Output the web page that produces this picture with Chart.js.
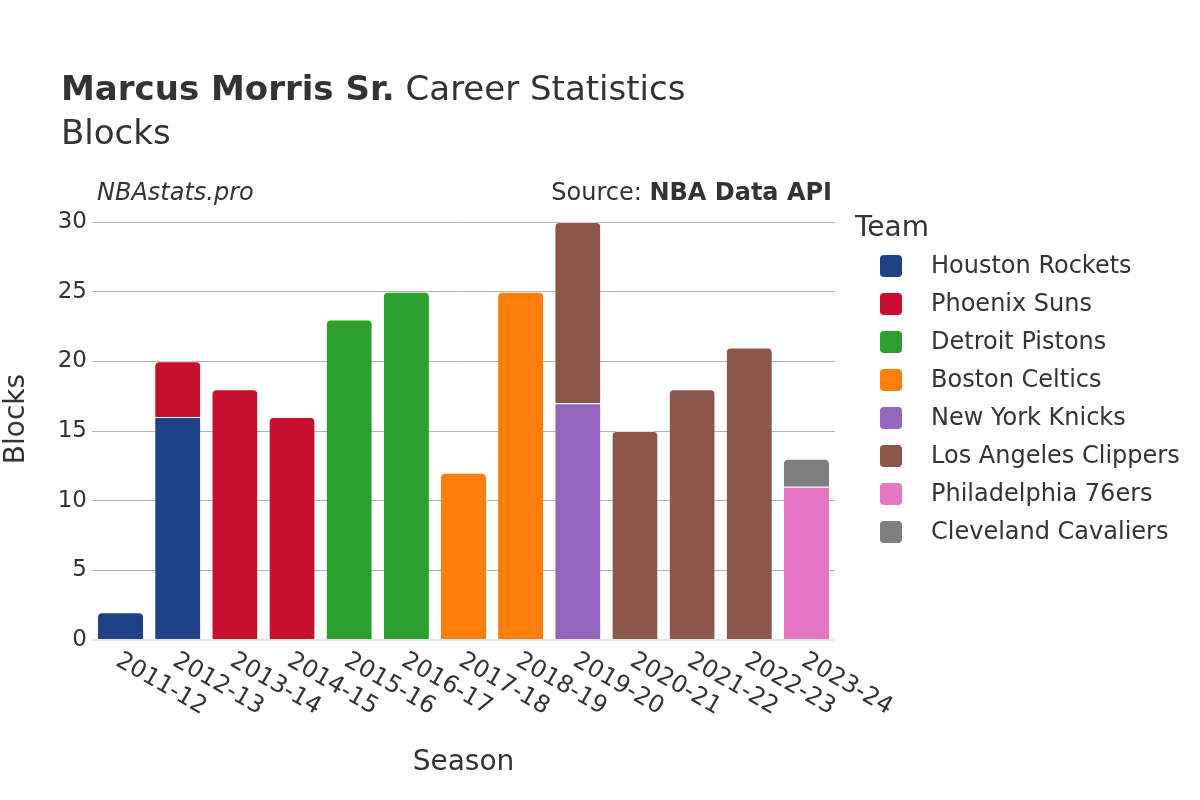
<!DOCTYPE html>
<html><head><meta charset="utf-8">
<script src="https://cdn.jsdelivr.net/npm/chart.js@4"></script>
<style>html,body{margin:0;padding:0;background:#fff}#wrap{width:1200px;height:800px}</style>
</head><body><div id="wrap"><canvas id="c" width="1200" height="800"></canvas></div>
<script>
const seasons = ['2011-12','2012-13','2013-14','2014-15','2015-16','2016-17','2017-18','2018-19','2019-20','2020-21','2021-22','2022-23','2023-24'];
const teams = ['Houston Rockets','Phoenix Suns','Detroit Pistons','Boston Celtics','New York Knicks','Los Angeles Clippers','Philadelphia 76ers','Cleveland Cavaliers'];
const teamColors = ['#1f4287','#c8102e','#2ca02c','#ff7f0e','#9467bd','#8c564b','#e377c2','#7f7f7f'];
const houstonBlocks  = [2,16,null,null,null,null,null,null,null,null,null,null,null];
const phoenixBlocks  = [null,4,18,16,null,null,null,null,null,null,null,null,null];
const detroitBlocks  = [null,null,null,null,23,25,null,null,null,null,null,null,null];
const bostonBlocks   = [null,null,null,null,null,null,12,25,null,null,null,null,null];
const knicksBlocks   = [null,null,null,null,null,null,null,null,17,null,null,null,null];
const clippersBlocks = [null,null,null,null,null,null,null,null,13,15,18,21,null];
const sixersBlocks   = [null,null,null,null,null,null,null,null,null,null,null,null,11];
const cavsBlocks     = [null,null,null,null,null,null,null,null,null,null,null,null,2];
const yTicks = [0,5,10,15,20,25,30];
const seriesValues = [houstonBlocks,phoenixBlocks,detroitBlocks,bostonBlocks,knicksBlocks,clippersBlocks,sixersBlocks,cavsBlocks];

const FONT = "'DejaVu Sans', sans-serif";
const TXT = '#333';

const datasets = teams.map((t,k)=>({
  label: t,
  data: seriesValues[k],
  backgroundColor: teamColors[k],
  borderColor: 'rgba(255,255,255,0.6)',
  borderWidth: {top:1,left:0,right:0,bottom:0},
  borderSkipped: 'start',
  borderRadius: (ctx)=>{
    const i = ctx.dataIndex, d = ctx.datasetIndex;
    for (let j=d+1;j<seriesValues.length;j++){ if (seriesValues[j][i]) return 0; }
    return {topLeft:5, topRight:5, bottomLeft:0, bottomRight:0};
  },
  barPercentage: 0.79,
  categoryPercentage: 1.0
}));

const deco = {
  id:'deco',
  afterDraw(chart){
    const ctx = chart.ctx;
    ctx.save();
    ctx.fillStyle = TXT;
    ctx.textBaseline = 'alphabetic';
    ctx.textAlign = 'left';
    ctx.font = "bold 34px " + FONT;
    const t1 = 'Marcus Morris Sr.';
    ctx.fillText(t1, 61, 100);
    const w1 = ctx.measureText(t1).width;
    ctx.font = "34px " + FONT;
    ctx.fillText(' Career Statistics', 61 + w1, 100);
    ctx.fillText('Blocks', 61, 144);
    ctx.font = "italic 24px " + FONT;
    ctx.fillText('NBAstats.pro', 97, 200);
    ctx.textAlign = 'right';
    ctx.font = "bold 24px " + FONT;
    const s2 = 'NBA Data API';
    ctx.fillText(s2, 832, 200);
    const w2 = ctx.measureText(s2).width;
    ctx.font = "24px " + FONT;
    ctx.fillText('Source: ', 832 - w2, 200);
    // y axis title
    ctx.save();
    ctx.font = "28px " + FONT;
    ctx.textAlign = 'center';
    ctx.textBaseline = 'middle';
    ctx.translate(17, 419);
    ctx.rotate(-Math.PI/2);
    ctx.fillText('Blocks', 0, 0);
    ctx.restore();
    // legend
    ctx.textAlign = 'left';
    ctx.textBaseline = 'alphabetic';
    ctx.font = "28px " + FONT;
    ctx.fillText('Team', 855, 236);
    ctx.font = "24px " + FONT;
    ctx.textBaseline = 'middle';
    chart.data.datasets.forEach((ds,k)=>{
      const cy = 266 + k*38;
      ctx.fillStyle = ds.backgroundColor;
      ctx.beginPath();
      ctx.roundRect(880, cy-11, 22, 22, 4);
      ctx.fill();
      ctx.fillStyle = TXT;
      ctx.fillText(ds.label, 931, cy+1);
    });
    const xs = chart.scales.x;
    ctx.font = "24px " + FONT;
    ctx.fillStyle = TXT;
    ctx.textAlign = 'left';
    ctx.textBaseline = 'middle';
    seasons.forEach((s,i)=>{
      const x = xs.getPixelForValue(i);
      ctx.save();
      ctx.translate(x - 3, 659);
      ctx.rotate(Math.PI/6);
      ctx.fillText(s, 0, 0);
      ctx.restore();
    });
    ctx.restore();
  }
};

new Chart(document.getElementById('c'), {
  type: 'bar',
  data: { labels: seasons, datasets },
  options: {
    responsive: false,
    animation: false,
    devicePixelRatio: 1,
    layout: { padding: { top: 222, right: 365, left: 0, bottom: 0 } },
    plugins: { legend: { display: false }, tooltip: { enabled: false } },
    scales: {
      x: {
        stacked: true,
        grid: { display: false },
        border: { display: false },
        ticks: { display: false },
        title: { display: true, text: 'Season', color: TXT, font: { family: FONT, size: 28 }, padding: { top: 0, bottom: 20 } },
        afterFit: (s)=>{ s.height = 160; }
      },
      y: {
        stacked: true,
        min: 0, max: 30,
        afterBuildTicks: (s)=>{ s.ticks = yTicks.map(v=>({value:v})); },
        grid: {
          drawTicks: false,
          color: (c)=> c.tick && c.tick.value === 0 ? '#e6e6e6' : '#b4b4b4',
          lineWidth: (c)=> c.tick && c.tick.value === 0 ? 2 : 1
        },
        border: { display: false },
        ticks: { color: TXT, font: { family: FONT, size: 23 }, padding: 5 },
        title: { display: false },
        afterFit: (s)=>{ s.width = 92; }
      }
    }
  },
  plugins: [deco]
});
</script>
</body></html>
